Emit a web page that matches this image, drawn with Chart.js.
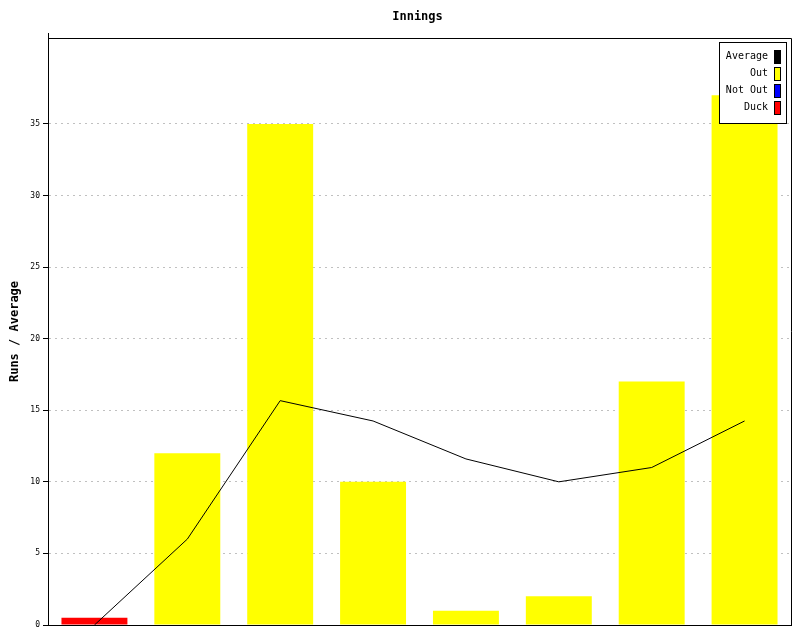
<!DOCTYPE html>
<html>
<head>
<meta charset="utf-8">
<script src="https://cdn.jsdelivr.net/npm/chart.js@4"></script>
<style>
  body { margin: 0; background: #fff; }
  #wrap { width: 800px; height: 640px; }
</style>
</head>
<body>
<div id="wrap"><canvas id="innings"></canvas></div>
<script>
var innings = ['1', '2', '3', '4', '5', '6', '7', '8'];
var runsOut = [null, 12, 35, 10, 1, 2, 17, 37];
var runsNotOut = [null, null, null, null, null, null, null, null];
var runsDuck = [0.5, null, null, null, null, null, null, null];
var average = [0, 6, 15.67, 14.25, 11.6, 10, 11, 14.25];
var yTicks = [0, 5, 10, 15, 20, 25, 30, 35];

var FONT = "'DejaVu Sans Mono', monospace";

// title over the plot, box round the plot and the legend in the corner
var frame = {
  id: 'frame',
  afterDraw: function(chart) {
    var ctx = chart.ctx, a = chart.chartArea;
    ctx.save();
    ctx.fillStyle = '#000';
    ctx.font = 'bold 12px ' + FONT;
    ctx.textAlign = 'center';
    ctx.textBaseline = 'middle';
    ctx.fillText('Innings', (a.left + a.right) / 2 - 2, 17);

    ctx.strokeStyle = '#000';
    ctx.lineWidth = 1;
    ctx.beginPath();
    ctx.moveTo(a.left + 0.5, a.top - 5);
    ctx.lineTo(a.left + 0.5, a.top + 0.5);
    ctx.lineTo(a.right + 0.5, a.top + 0.5);
    ctx.lineTo(a.right + 0.5, a.bottom);
    ctx.stroke();

    var items = chart.data.datasets.slice().reverse();
    var bx = a.right - 72, by = a.top + 4, bw = 67, bh = 81;
    ctx.fillStyle = '#fff';
    ctx.fillRect(bx, by, bw, bh);
    ctx.strokeRect(bx + 0.5, by + 0.5, bw, bh);
    ctx.font = '10px ' + FONT;
    ctx.textAlign = 'right';
    items.forEach(function(ds, i) {
      var y = by + 14 + i * 17;
      ctx.fillStyle = '#000';
      ctx.fillText(ds.label, bx + 49, y);
      ctx.fillStyle = ds.legendColor;
      ctx.fillRect(bx + 55, y - 6, 6, 13);
      ctx.strokeRect(bx + 55.5, y - 5.5, 6, 13);
    });
    ctx.restore();
  }
};

var ctx = document.getElementById('innings').getContext('2d');
new Chart(ctx, {
  type: 'bar',
  data: {
    labels: innings,
    datasets: [
      { label: 'Duck', data: runsDuck, backgroundColor: '#ff0000', legendColor: '#ff0000', order: 2 },
      { label: 'Not Out', data: runsNotOut, backgroundColor: '#0000ff', legendColor: '#0000ff', order: 2 },
      { label: 'Out', data: runsOut, backgroundColor: '#ffff00', legendColor: '#ffff00', order: 2 },
      { label: 'Average', type: 'line', data: average, borderColor: '#000', legendColor: '#000',
        borderWidth: 1, pointRadius: 0, tension: 0, fill: false, order: 1 }
    ]
  },
  options: {
    responsive: true,
    maintainAspectRatio: false,
    animation: false,
    layout: { padding: { top: 38, right: 9, bottom: 7, left: 0 } },
    datasets: { bar: { categoryPercentage: 1, barPercentage: 0.71 } },
    plugins: {
      legend: { display: false },
      tooltip: { enabled: false },
      title: { display: false }
    },
    scales: {
      x: {
        stacked: true,
        grid: { display: false },
        ticks: { display: false },
        border: { display: true, color: '#000', width: 1 }
      },
      y: {
        min: 0,
        max: 41,
        afterBuildTicks: function(scale) {
          scale.ticks = yTicks.map(function(v) { return { value: v }; });
        },
        afterFit: function(scale) { scale.width = 48; },
        ticks: {
          color: '#000',
          padding: 3,
          font: { family: FONT, size: 8 }
        },
        grid: {
          color: '#c0c0c0',
          tickColor: '#000',
          tickLength: 5,
          tickBorderDash: [],
          drawOnChartArea: true
        },
        border: { display: true, color: '#000', width: 1, dash: [2, 4] },
        title: {
          display: true,
          text: 'Runs / Average',
          color: '#000',
          font: { family: FONT, size: 12, weight: 'bold' },
          padding: { top: 8, bottom: 0 }
        }
      }
    }
  },
  plugins: [frame]
});
</script>
</body>
</html>
